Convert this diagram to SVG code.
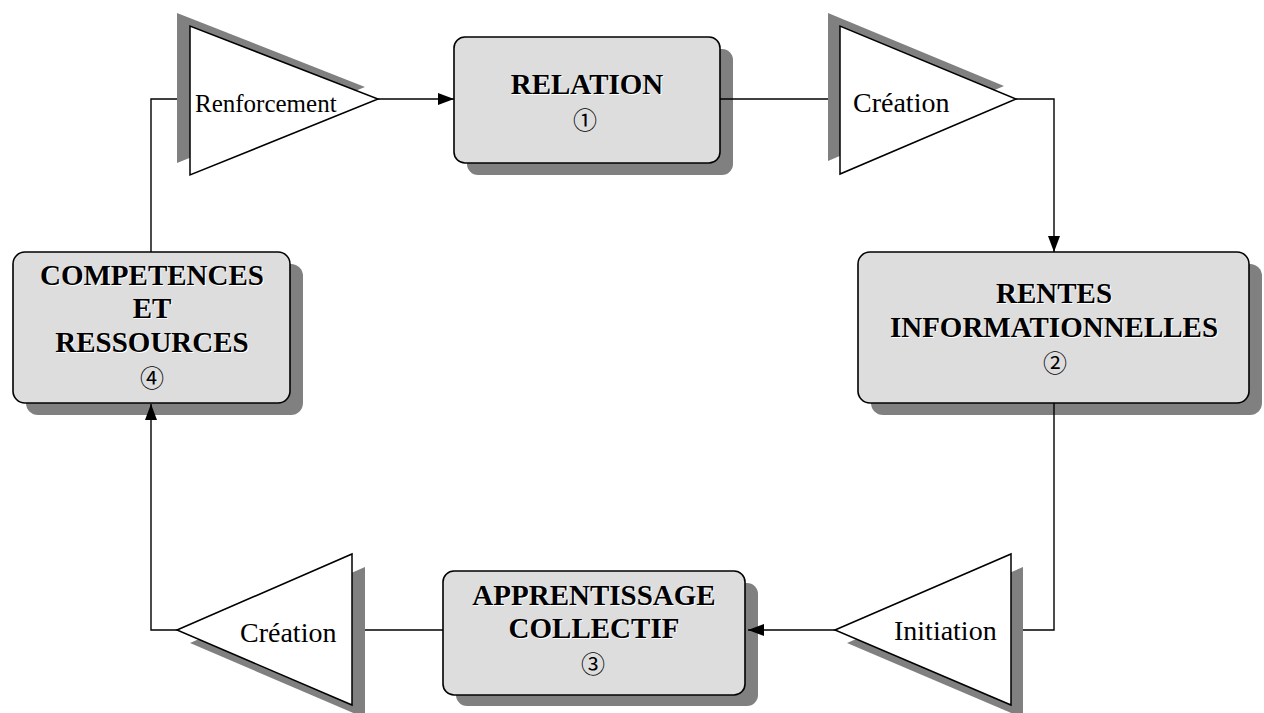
<svg xmlns="http://www.w3.org/2000/svg" width="1264" height="713" viewBox="0 0 1264 713">
<defs>
<style>
.shadow{fill:#808080;stroke:none}
.box{fill:#dddddd;stroke:#000;stroke-width:1.6}
.tri{fill:#fff;stroke:#000;stroke-width:1.5}
.conn{fill:none;stroke:#000;stroke-width:1.4}
.title{font-family:"Liberation Serif","Times New Roman",serif;font-weight:bold;font-size:29px;text-anchor:middle}
.tshadow{fill:#fff}
.lbl{font-family:"Liberation Serif","Times New Roman",serif;font-size:28px;fill:#000}
.num{font-family:"Noto Sans CJK JP","DejaVu Sans",sans-serif;font-size:24px;text-anchor:middle;fill:#000}
</style>
<marker id="arr" viewBox="0 0 16 12" refX="16" refY="6" markerWidth="16" markerHeight="12" markerUnits="userSpaceOnUse" orient="auto">
<path d="M0,0 L16,6 L0,12 Z" fill="#000"/>
</marker>
</defs>
<rect width="1264" height="713" fill="#fff"/>

<g id="tri-renforcement">
<polygon class="shadow" points="177,13 177,163 365,87"/>
<polygon class="tri" points="190,26 190,175 378,99"/>
<text class="lbl" x="195" y="112" style="font-size:25px">Renforcement</text>
</g>

<g id="node-relation">
<rect class="shadow" x="467" y="49" width="266" height="126" rx="11"/>
<rect class="box" x="454" y="37" width="266" height="126" rx="11"/>
<text class="title tshadow" x="588" y="95">RELATION</text>
<text class="title" x="587" y="94">RELATION</text>
<text class="num" x="585" y="129">①</text>
</g>

<g id="tri-creation-top">
<polygon class="shadow" points="828,13 828,161 1004,86"/>
<polygon class="tri" points="840,26 840,174 1016,99"/>
<text class="lbl" x="853" y="112">Création</text>
</g>

<g id="node-rentes">
<rect class="shadow" x="871" y="264" width="391" height="151" rx="12"/>
<rect class="box" x="858" y="252" width="391" height="151" rx="12"/>
<text class="title tshadow" x="1055" y="304">RENTES</text>
<text class="title" x="1054" y="303">RENTES</text>
<text class="title tshadow" x="1055" y="338">INFORMATIONNELLES</text>
<text class="title" x="1054" y="337">INFORMATIONNELLES</text>
<text class="num" x="1055" y="372">②</text>
</g>

<g id="tri-initiation">
<polygon class="shadow" points="847,643 1023,567 1023,718"/>
<polygon class="tri" points="835,630 1011,554 1011,705"/>
<text class="lbl" x="894" y="640">Initiation</text>
</g>

<g id="node-apprentissage">
<rect class="shadow" x="456" y="583" width="302" height="123" rx="11"/>
<rect class="box" x="443" y="571" width="302" height="124" rx="11"/>
<text class="title tshadow" x="595" y="606">APPRENTISSAGE</text>
<text class="title" x="594" y="605">APPRENTISSAGE</text>
<text class="title tshadow" x="595" y="639">COLLECTIF</text>
<text class="title" x="594" y="638">COLLECTIF</text>
<text class="num" x="593" y="673">③</text>
</g>

<g id="tri-creation-bottom">
<polygon class="shadow" points="190,643 365,567 365,718"/>
<polygon class="tri" points="177,630 352,554 352,705"/>
<text class="lbl" x="240" y="642">Création</text>
</g>

<g id="node-competences">
<rect class="shadow" x="26" y="264" width="277" height="151" rx="12"/>
<rect class="box" x="13" y="252" width="277" height="151" rx="12"/>
<text class="title tshadow" x="153" y="286">COMPETENCES</text>
<text class="title" x="152" y="285">COMPETENCES</text>
<text class="title tshadow" x="153" y="319">ET</text>
<text class="title" x="152" y="318">ET</text>
<text class="title tshadow" x="153" y="353">RESSOURCES</text>
<text class="title" x="152" y="352">RESSOURCES</text>
<text class="num" x="152" y="387">④</text>
</g>

<g id="connectors">
<polyline class="conn" points="151,252 151,99 177,99"/>
<line class="conn" x1="378" y1="99" x2="454" y2="99" marker-end="url(#arr)"/>
<line class="conn" x1="720" y1="99" x2="828" y2="99"/>
<polyline class="conn" points="1016,99 1054,99 1054,252" marker-end="url(#arr)"/>
<polyline class="conn" points="1054,403 1054,630 1023,630"/>
<line class="conn" x1="835" y1="630" x2="748" y2="630" marker-end="url(#arr)"/>
<line class="conn" x1="443" y1="630" x2="365" y2="630"/>
<polyline class="conn" points="177,630 151,630 151,404" marker-end="url(#arr)"/>
</g>
</svg>
